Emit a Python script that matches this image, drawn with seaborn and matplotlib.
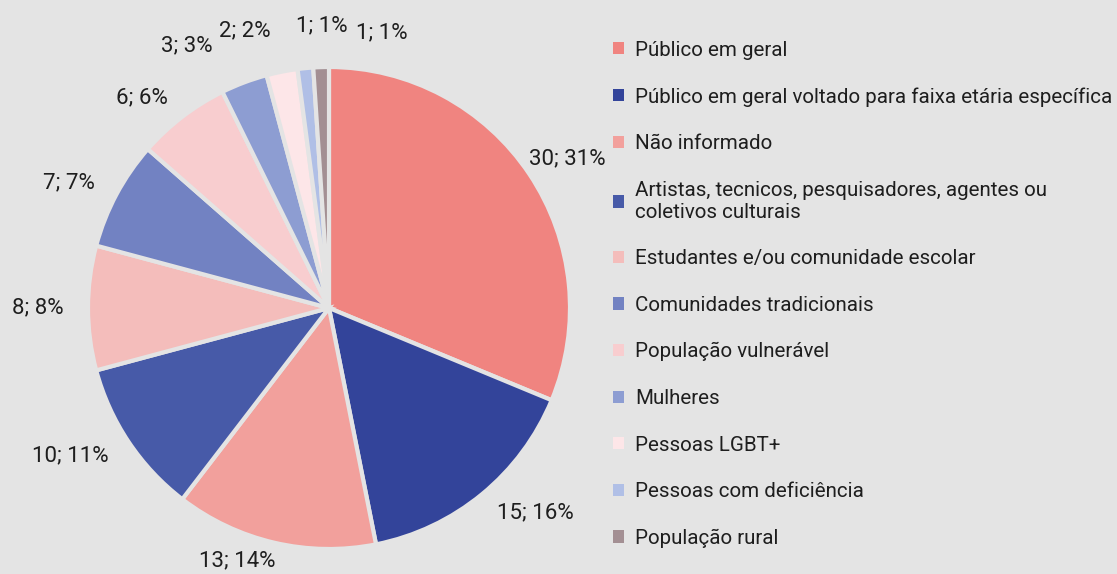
import numpy as np
import seaborn as sns
import matplotlib.pyplot as plt

categories = [
    "Público em geral",
    "Público em geral voltado para faixa etária específica",
    "Não informado",
    "Artistas, tecnicos, pesquisadores, agentes ou\ncoletivos culturais",
    "Estudantes e/ou comunidade escolar",
    "Comunidades tradicionais",
    "População vulnerável",
    "Mulheres",
    "Pessoas LGBT+",
    "Pessoas com deficiência",
    "População rural",
]
counts = [30, 15, 13, 10, 8, 7, 6, 3, 2, 1, 1]
percents = [31, 16, 14, 11, 8, 7, 6, 3, 2, 1, 1]
colors = ["#f08480", "#33449a", "#f2a09c", "#475aa8", "#f4bdbb", "#7282c2",
          "#f8cdcf", "#8d9dd2", "#fde6e8", "#b0bfe6", "#a38f93"]

bg = "#e4e4e4"
sns.set_theme(style="white")
plt.rcParams["font.family"] = ["Roboto", "DejaVu Sans"]

fig = plt.figure(figsize=(11.17, 5.74), dpi=100, facecolor=bg)
# pie axes: centre ~ (329, 308) px, radius ~ 241 px
ax = fig.add_axes([88 / 1117, 25 / 574, 482 / 1117, 482 / 574])
ax.set_facecolor(bg)

labels = [f"{c}; {p}%" for c, p in zip(counts, percents)]
wedges, texts = ax.pie(
    counts,
    labels=labels,
    colors=colors,
    startangle=90,
    counterclock=False,
    radius=1,
    labeldistance=1.1,
    wedgeprops=dict(edgecolor=bg, linewidth=3),
    textprops=dict(fontsize=16, color="#1e1e1e"),
)

# crowded labels at the top were moved by hand in the original
manual_pos = {0: (0.99, 0.62), 2: (-0.38, -1.05), 7: (-0.59, 1.09),
              8: (-0.35, 1.15), 9: (-0.03, 1.17), 10: (0.22, 1.14)}
for i, (x, y) in manual_pos.items():
    texts[i].set_position((x, y))
    texts[i].set_ha("center")
    texts[i].set_va("center")

ax.set_xlim(-1, 1)
ax.set_ylim(-1, 1)
ax.set_aspect("equal")

leg = fig.legend(
    wedges, categories,
    loc="upper left",
    bbox_to_anchor=(594 / 1117, 1 - 22 / 574),
    frameon=False,
    fontsize=14.8,
    handlelength=0.55,
    handleheight=0.55,
    handletextpad=0.55,
    labelspacing=1.34,
    labelcolor="#1e1e1e",
)
for h in leg.legend_handles:
    h.set_edgecolor("none")

fig.savefig("out.png", dpi=100, facecolor=bg)
